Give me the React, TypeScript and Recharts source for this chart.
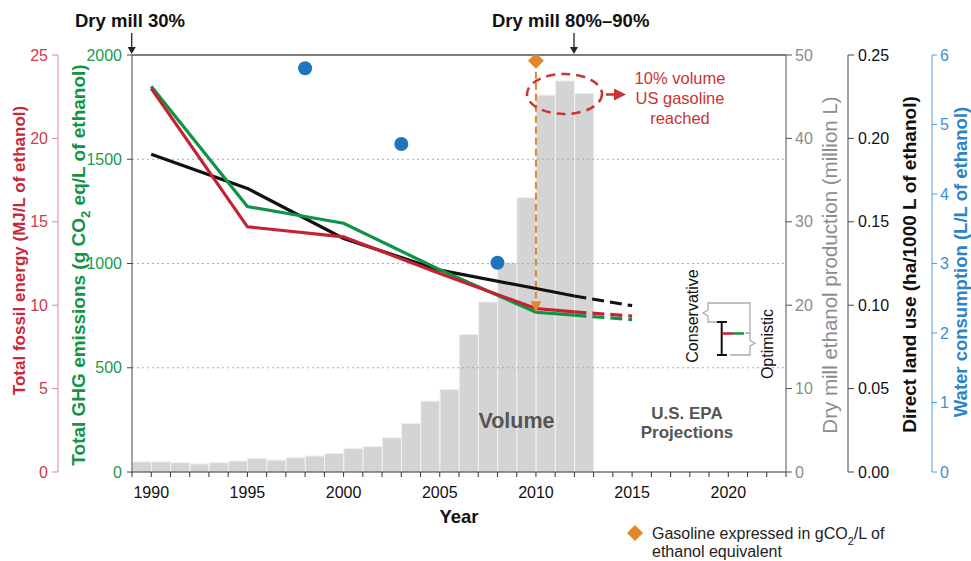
import React from "react";
import {
    ComposedChart,
    Bar,
    Line,
    Scatter,
    XAxis,
    YAxis,
    ReferenceLine,
} from "recharts";

// dry mill ethanol production (bars drawn from year to year + 1)
const productionYears = [
    1989, 1990, 1991, 1992, 1993, 1994, 1995, 1996, 1997, 1998, 1999, 2000,
    2001, 2002, 2003, 2004, 2005, 2006, 2007, 2008, 2009, 2010, 2011, 2012,
];
const production = [
    1.23, 1.23, 1.12, 0.96, 1.12, 1.32, 1.64, 1.44, 1.72, 1.92, 2.24, 2.84,
    3.04, 4.12, 5.84, 8.5, 9.9, 16.5, 20.4, 25.1, 32.9, 45.2, 46.9, 45.4,
];

// life-cycle indicators
const lineYears = [1990, 1995, 2000, 2005, 2010, 2012];
const fossilEnergy = [23.0, 14.7, 14.1, 11.9, 9.8, 9.6];
const ghgEmissions = [1850, 1273, 1193, 970, 766, 752];
const landUse = [0.1905, 0.17, 0.14, 0.121, 0.11, 0.1055];

// EPA projections (dashed)
const projectionYears = [2012, 2015];
const fossilProjection = [9.6, 9.35];
const ghgProjection = [752, 731];
const landProjection = [0.1055, 0.0997];

const waterYears = [1998, 2003, 2008];
const waterUse = [5.81, 4.72, 3.01];

const gasolineYear = 2010;
const gasolineGhg = 1972;

const yearTicks = [
    1989, 1990, 1991, 1992, 1993, 1994, 1995, 1996, 1997, 1998, 1999, 2000,
    2001, 2002, 2003, 2004, 2005, 2006, 2007, 2008, 2009, 2010, 2011, 2012,
    2013, 2014, 2015, 2016, 2017, 2018, 2019, 2020, 2021, 2022, 2023,
];
const labelledYears = [1990, 1995, 2000, 2005, 2010, 2015, 2020];
const fossilTicks = [0, 5, 10, 15, 20, 25];
const ghgTicks = [0, 500, 1000, 1500, 2000];
const productionTicks = [0, 10, 20, 30, 40, 50];
const landTicks = [0, 0.05, 0.1, 0.15, 0.2, 0.25];
const waterTicks = [0, 1, 2, 3, 4, 5, 6];
const gridValues = [500, 1000, 1500];

const FONT = '"Liberation Sans", Arial, Helvetica, sans-serif';
const RED = "#c62132";
const GREEN = "#0f9447";
const BLUE = "#1e74bf";
const ORANGE = "#e3862b";

// axis ids sort alphabetically: "a" sits next to the plot
const GHG = "a_ghg";
const FOSSIL = "b_fossil";
const PROD = "a_prod";
const LAND = "b_land";
const WATER = "c_water";

// one year on the x axis is 19.2px wide, bars fill the whole year
const YEAR_PX = 19.2;

const pairs = (xs: number[], ys: number[]) => xs.map((x, i) => ({ x, y: ys[i] }));

const barData = productionYears.map((yr, i) => ({ x: yr + 0.5, production: production[i] }));

const YearBar = (p: any) => {
    if (!p.height) return null;
    const cx = p.x + p.width / 2;
    return (
        <rect x={cx - YEAR_PX / 2} y={p.y} width={YEAR_PX} height={p.height}
            fill="#d4d4d4" stroke="#f2f2f2" strokeWidth={1} />
    );
};
const WaterDot = (p: any) => <circle cx={p.cx} cy={p.cy} r={7} fill={BLUE} />;
const Diamond = (p: any) => (
    <path d={`M${p.cx},${p.cy - 8} L${p.cx + 8},${p.cy} L${p.cx},${p.cy + 8} L${p.cx - 8},${p.cy} Z`} fill={ORANGE} />
);
const ArrowHead = (p: any) => (
    <path d={`M${p.cx - 5.5},${p.cy - 11} L${p.cx + 5.5},${p.cy - 11} L${p.cx},${p.cy} Z`} fill={ORANGE} />
);

const Annotations = () => (
    <svg
        width={971}
        height={561}
        style={{ position: "absolute", left: 0, top: 0, pointerEvents: "none", fontFamily: FONT }}
    >
        {/* axis titles */}
        <text transform="translate(19.5,250.5) rotate(-90)" textAnchor="middle" dominantBaseline="central"
            fontSize={17} fontWeight="bold" fill="#c8283a">
            Total fossil energy (MJ/L of ethanol)
        </text>
        <text transform="translate(78,265) rotate(-90)" textAnchor="middle" dominantBaseline="central"
            fontSize={19} fontWeight="bold" fill="#129447">
            Total GHG emissions (g CO<tspan baselineShift="sub" fontSize={13}>2</tspan> eq/L of ethanol)
        </text>
        <text transform="translate(829,265) rotate(-90)" textAnchor="middle" dominantBaseline="central"
            fontSize={20.5} fill="#8c8c8c">
            Dry mill ethanol production (million L)
        </text>
        <text transform="translate(909,264.5) rotate(-90)" textAnchor="middle" dominantBaseline="central"
            fontSize={19} fontWeight="bold" fill="#111">
            Direct land use (ha/1000 L of ethanol)
        </text>
        <text transform="translate(960.5,262) rotate(-90)" textAnchor="middle" dominantBaseline="central"
            fontSize={18.5} fontWeight="bold" fill="#2d83c8">
            Water consumption (L/L of ethanol)
        </text>

        {/* dry mill markers */}
        <text x={75} y={27} fontSize={18.5} fontWeight="bold" fill="#111">Dry mill 30%</text>
        <line x1={131.7} y1={33} x2={131.7} y2={48} stroke="#222" strokeWidth={1.3} />
        <path d="M127.7,47 L135.7,47 L131.7,54 Z" fill="#222" />
        <text x={492} y={27} fontSize={18.5} fontWeight="bold" fill="#111">Dry mill 80%–90%</text>
        <line x1={574} y1={33} x2={574} y2={48} stroke="#222" strokeWidth={1.3} />
        <path d="M570,47 L578,47 L574,54 Z" fill="#222" />

        {/* 10% volume callout */}
        <ellipse cx={564.5} cy={94} rx={37.5} ry={20} fill="none" stroke="#cc3333" strokeWidth={2.5} strokeDasharray="9 6" />
        <line x1={606} y1={94.5} x2={616} y2={94.5} stroke="#cc3333" strokeWidth={2.5} />
        <path d="M614,88.5 L626,94.5 L614,100.5 Z" fill="#cc3333" />
        <text x={680} y={83.5} textAnchor="middle" fontSize={16.5} fill="#cc3333">10% volume</text>
        <text x={680} y={103.5} textAnchor="middle" fontSize={16.5} fill="#cc3333">US gasoline</text>
        <text x={680} y={123.5} textAnchor="middle" fontSize={16.5} fill="#cc3333">reached</text>

        <text x={516.5} y={427.5} textAnchor="middle" fontSize={21.5} fontWeight="bold" fill="#555">Volume</text>
        <text x={687} y={418.5} textAnchor="middle" fontSize={17} fontWeight="bold" fill="#555">U.S. EPA</text>
        <text x={687} y={438} textAnchor="middle" fontSize={17} fontWeight="bold" fill="#555">Projections</text>

        {/* conservative / optimistic range */}
        <path d="M721.7,322 L708,322 L708,316 L703,313 L708,310 L708,303 L750,303 L750,333 L745,333"
            fill="none" stroke="#aaa" strokeWidth={1.3} />
        <path d="M730,355 L750,355 L750,346 L755,343.3 L750,340.5 L750,333"
            fill="none" stroke="#aaa" strokeWidth={1.3} />
        <line x1={721.7} y1={322} x2={721.7} y2={355} stroke="#111" strokeWidth={2} />
        <line x1={717} y1={322} x2={727} y2={322} stroke="#111" strokeWidth={2} />
        <line x1={717} y1={355} x2={727} y2={355} stroke="#111" strokeWidth={2} />
        <line x1={722} y1={333.5} x2={733} y2={333.5} stroke={RED} strokeWidth={2.5} />
        <line x1={733} y1={333.5} x2={744} y2={333.5} stroke={GREEN} strokeWidth={2.5} />
        <text transform="translate(698,316) rotate(-90)" textAnchor="middle" fontSize={16} fill="#111">Conservative</text>
        <text transform="translate(773,344) rotate(-90)" textAnchor="middle" fontSize={16} fill="#111">Optimistic</text>

        {/* legend */}
        <path d="M635,525 L643,533 L635,541 L627,533 Z" fill={ORANGE} />
        <text x={652} y={538.5} fontSize={16} fill="#222">
            Gasoline expressed in gCO<tspan baselineShift="sub" fontSize={11}>2</tspan>/L of
        </text>
        <text x={652} y={556.5} fontSize={16} fill="#222">ethanol equivalent</text>
    </svg>
);

const App = () => {
    return (
        <div style={{ position: "absolute", left: 0, top: 0, width: 971, height: 561, background: "#fff" }}>
            <ComposedChart
                width={971}
                height={561}
                data={barData}
                margin={{ top: 55, right: 0, bottom: 29, left: 0 }}
                barGap={0}
                style={{ fontFamily: FONT }}
            >
                <XAxis
                    type="number"
                    dataKey="x"
                    domain={[1989, 2023]}
                    allowDataOverflow
                    ticks={yearTicks}
                    interval={0}
                    tickFormatter={(v: number) => (labelledYears.includes(v) ? String(v) : "")}
                    height={60}
                    stroke="#333"
                    tickSize={5}
                    tickMargin={10}
                    tick={{ fill: "#111", fontSize: 16 }}
                    label={{ value: "Year", position: "insideBottom", offset: 9, fill: "#111", fontSize: 18.5, fontWeight: "bold" }}
                />
                <YAxis
                    yAxisId={GHG}
                    orientation="left"
                    domain={[0, 2000]}
                    ticks={ghgTicks}
                    interval={0}
                    allowDataOverflow
                    width={74}
                    stroke="#444"
                    tickSize={5}
                    tickMargin={5}
                    tick={{ fill: "#1a9a4c", fontSize: 16 }}
                />
                <YAxis
                    yAxisId={FOSSIL}
                    orientation="left"
                    domain={[0, 25]}
                    ticks={fossilTicks}
                    interval={0}
                    allowDataOverflow
                    width={58}
                    stroke="#e48590"
                    tickSize={6}
                    tickMargin={4}
                    tick={{ fill: "#d03a48", fontSize: 16 }}
                />
                <YAxis
                    yAxisId={PROD}
                    orientation="right"
                    domain={[0, 50]}
                    ticks={productionTicks}
                    interval={0}
                    allowDataOverflow
                    width={62}
                    stroke="#555"
                    tickSize={6}
                    tickMargin={3}
                    tick={{ fill: "#8c8c8c", fontSize: 16 }}
                />
                <YAxis
                    yAxisId={LAND}
                    orientation="right"
                    domain={[0, 0.25]}
                    ticks={landTicks}
                    interval={0}
                    allowDataOverflow
                    width={84}
                    stroke="#444"
                    tickSize={6}
                    tickMargin={4}
                    tickFormatter={(v: number) => v.toFixed(2)}
                    tick={{ fill: "#111", fontSize: 16 }}
                />
                <YAxis
                    yAxisId={WATER}
                    orientation="right"
                    domain={[0, 6]}
                    ticks={waterTicks}
                    interval={0}
                    allowDataOverflow
                    width={39}
                    stroke="#5b9bd5"
                    tickSize={5}
                    tickMargin={3}
                    tick={{ fill: "#3f8fd0", fontSize: 16 }}
                />

                <Bar
                    yAxisId={PROD}
                    dataKey="production"
                    barSize={6}
                    shape={YearBar}
                    isAnimationActive={false}
                />

                {gridValues.map((v) => (
                    <ReferenceLine key={v} yAxisId={GHG} y={v} stroke="#aaa" strokeDasharray="2 3" />
                ))}
                <ReferenceLine yAxisId={GHG} y={2000} stroke="#555" strokeWidth={1.5} />
                <ReferenceLine
                    yAxisId={GHG}
                    segment={[
                        { x: gasolineYear, y: gasolineGhg },
                        { x: gasolineYear, y: ghgEmissions[4] + 40 },
                    ]}
                    stroke={ORANGE}
                    strokeWidth={2}
                    strokeDasharray="7 4"
                />

                <Line yAxisId={LAND} data={pairs(lineYears, landUse)} dataKey="y" stroke="#111" strokeWidth={3.2} dot={false} isAnimationActive={false} />
                <Line yAxisId={LAND} data={pairs(projectionYears, landProjection)} dataKey="y" stroke="#111" strokeWidth={3.2} strokeDasharray="12 6" dot={false} isAnimationActive={false} />
                <Line yAxisId={GHG} data={pairs(lineYears, ghgEmissions)} dataKey="y" stroke={GREEN} strokeWidth={3.2} dot={false} isAnimationActive={false} />
                <Line yAxisId={GHG} data={pairs(projectionYears, ghgProjection)} dataKey="y" stroke={GREEN} strokeWidth={3.2} strokeDasharray="12 6" dot={false} isAnimationActive={false} />
                <Line yAxisId={FOSSIL} data={pairs(lineYears, fossilEnergy)} dataKey="y" stroke={RED} strokeWidth={3.2} dot={false} isAnimationActive={false} />
                <Line yAxisId={FOSSIL} data={pairs(projectionYears, fossilProjection)} dataKey="y" stroke={RED} strokeWidth={3.2} strokeDasharray="12 6" dot={false} isAnimationActive={false} />

                <Scatter yAxisId={WATER} data={pairs(waterYears, waterUse)} dataKey="y" shape={WaterDot} isAnimationActive={false} />
                <Scatter yAxisId={GHG} data={[{ x: gasolineYear, y: gasolineGhg }]} dataKey="y" shape={Diamond} isAnimationActive={false} />
                <Scatter yAxisId={GHG} data={[{ x: gasolineYear, y: ghgEmissions[4] }]} dataKey="y" shape={ArrowHead} isAnimationActive={false} />
            </ComposedChart>
            <Annotations />
        </div>
    );
};

export default App;
